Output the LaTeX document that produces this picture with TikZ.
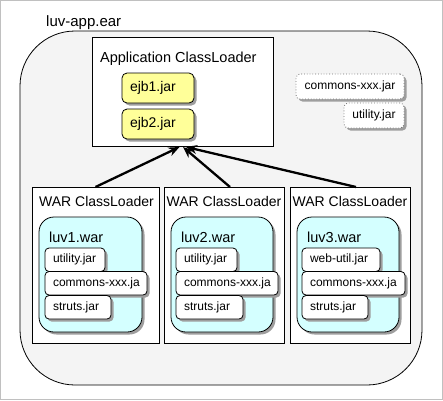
\documentclass[tikz,border=0pt]{standalone}
\usepackage{fontspec}
\setmainfont{Liberation Sans}
\usetikzlibrary{shadows,arrows.meta,calc}
\definecolor{earfill}{HTML}{F4F4F4}
\definecolor{ejbfill}{HTML}{FFFF99}
\definecolor{warfill}{HTML}{D4FFFF}
\definecolor{frame}{HTML}{C0C0C0}
\tikzset{
  base/.style={inner sep=0pt, outer sep=0pt, anchor=north west, line width=0.8pt},
  shd/.style={drop shadow={shadow xshift=2.5pt, shadow yshift=-2.5pt, fill=black!38, opacity=1}},
  plainbox/.style={base, draw=black, fill=white},
  titletext/.style={inner sep=0pt, anchor=base west, font=\fontsize{14.5}{16}\selectfont},
  jar/.style={base, draw=black, fill=white, rounded corners=4pt, shd, font=\fontsize{12}{14}\selectfont, align=left, inner xsep=8pt},
  topjar/.style={jar, draw=black!55, dotted, align=center, minimum height=25pt},
  warjar/.style={jar, minimum height=23.5pt},
  ejb/.style={jar, fill=ejbfill, rounded corners=5pt, minimum height=30pt, text width=56pt, font=\fontsize{14}{16}\selectfont},
  warbox/.style={base, draw=black, fill=warfill, rounded corners=15pt, shd, minimum width=102pt, minimum height=115pt},
  loader/.style={plainbox, minimum width=120pt, minimum height=156pt},
  dep/.style={line width=2.3pt, -{Stealth[length=11pt,width=9pt]}},
}
\begin{document}
\begin{tikzpicture}[x=1pt,y=-1pt]
\useasboundingbox (0,0) rectangle (443,400);
\draw[frame, line width=1pt] (0.5,0.5) rectangle (442.5,399.5);
% ear
\node[base, draw=black, fill=earfill, rounded corners=55pt, minimum width=402pt, minimum height=354pt] (ear) at (20,31) {};
\node[inner sep=0pt, anchor=base west, font=\fontsize{15}{17}\selectfont] (earlbl) at (46,26.5) {luv-app.ear};
% application classloader
\node[plainbox, minimum width=181pt, minimum height=109pt] (app) at (92,37) {};
\node[titletext] (applbl) at (100,62.5) {Application ClassLoader};
\node[ejb] (ejb1) at (122,73) {ejb1.jar};
\node[ejb] (ejb2) at (122,109) {ejb2.jar};
% top right jars
\node[topjar, text width=92pt] (tcommons) at (296,74) {\mbox{commons-xxx.jar}};
\node[topjar, text width=44pt] (tutil) at (344,103) {utility.jar};
% WAR loaders
\node[loader, minimum width=127pt] (wl1) at (32,187) {};
\node[loader] (wl2) at (164,187) {};
\node[loader] (wl3) at (290,187) {};
\node[inner sep=0pt, anchor=base, font=\fontsize{14}{16}\selectfont] (wl1lbl) at (96.5,206) {WAR ClassLoader};
\node[inner sep=0pt, anchor=base, font=\fontsize{14}{16}\selectfont] (wl2lbl) at (224,206) {WAR ClassLoader};
\node[inner sep=0pt, anchor=base, font=\fontsize{14}{16}\selectfont] (wl3lbl) at (350,206) {WAR ClassLoader};
% WARs
\node[warbox, minimum width=103pt] (war1) at (39,217) {};
\node[warbox] (war2) at (171,217) {};
\node[warbox] (war3) at (297,217) {};
\node[titletext] (war1lbl) at (49,242) {luv1.war};
\node[titletext] (war2lbl) at (181,242) {luv2.war};
\node[titletext] (war3lbl) at (307,242) {luv3.war};
% war1 jars
\node[warjar, text width=44pt] (u1) at (45,248) {utility.jar};
\node[warjar, text width=86pt] (c1) at (45,271.5) {\mbox{commons-xxx.ja}};
\node[warjar, text width=50pt] (s1) at (45,295.5) {struts.jar};
% war2 jars
\node[warjar, text width=45pt] (u2) at (176,248) {utility.jar};
\node[warjar, text width=86pt] (c2) at (176,271.5) {\mbox{commons-xxx.ja}};
\node[warjar, text width=51pt] (s2) at (176,295.5) {struts.jar};
% war3 jars
\node[warjar, text width=62pt] (u3) at (302,248) {web-util.jar};
\node[warjar, text width=87pt] (c3) at (302,271.5) {\mbox{commons-xxx.ja}};
\node[warjar, text width=50pt] (s3) at (302,295.5) {struts.jar};
% arrows
\coordinate (t1) at ($(app.south)+(-3,1)$);
\coordinate (t2) at ($(app.south)+(0.5,1)$);
\coordinate (t3) at ($(app.south)+(3.5,1)$);
\draw[dep] (wl1.north) -- (t1);
\draw[dep] ($(wl2.north)+(6,0)$) -- (t2);
\draw[dep] ($(wl3.north)+(6,0)$) -- (t3);
\end{tikzpicture}
\end{document}
